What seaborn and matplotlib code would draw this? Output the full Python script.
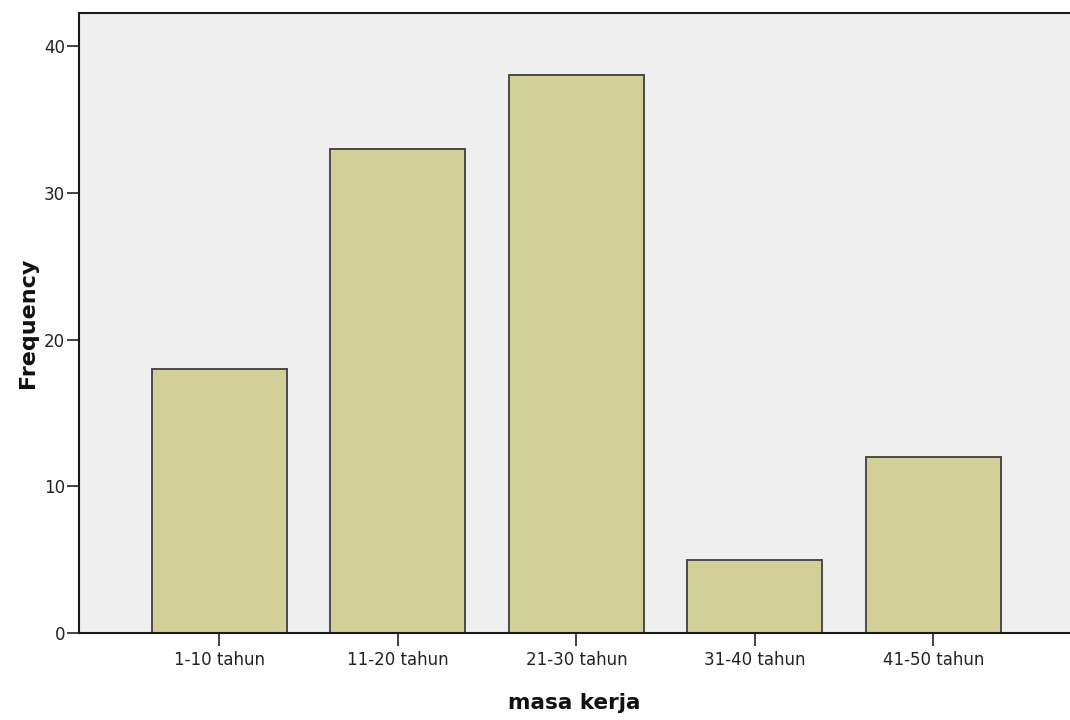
import matplotlib
matplotlib.use('Agg')
import matplotlib.pyplot as plt
import seaborn as sns
import pandas as pd

# data
categories = ['1-10 tahun', '11-20 tahun', '21-30 tahun', '31-40 tahun', '41-50 tahun']
frequency = [18, 33, 38, 5, 12]

df = pd.DataFrame({'masa kerja': categories, 'Frequency': frequency})

sns.set_style('ticks')
plt.rcParams['font.family'] = ['DejaVu Sans']

fig = plt.figure(figsize=(10.7, 7.2), dpi=100)
ax = fig.add_axes([0.0738, 0.1208, 0.9262, 0.8611])
ax.set_facecolor('#efefef')

sns.barplot(data=df, x='masa kerja', y='Frequency', ax=ax,
            color='#d3cf98', saturation=1, width=0.756,
            edgecolor='#4a4a4a', linewidth=1.4)

ax.set_xlim(-0.787, 4.765)
ax.set_ylim(0, 42.25)
ax.set_yticks([0, 10, 20, 30, 40])

for side in ['left', 'bottom', 'top']:
    ax.spines[side].set_color('#1a1a1a')
    ax.spines[side].set_linewidth(1.5)
ax.spines['right'].set_visible(False)

ax.tick_params(axis='both', direction='out', length=9, width=1.3,
               color='#333333', labelsize=12, labelcolor='#222222')
ax.tick_params(axis='y', pad=1)
ax.tick_params(axis='x', pad=4)

ax.set_xlabel('masa kerja', fontsize=15.5, fontweight='bold', color='#111111')
ax.set_ylabel('Frequency', fontsize=16, fontweight='bold', color='#111111')
ax.xaxis.set_label_coords(0.5, -0.097)
ax.yaxis.set_label_coords(-0.041, 0.50)

plt.savefig('out.png', dpi=100, facecolor='white')
